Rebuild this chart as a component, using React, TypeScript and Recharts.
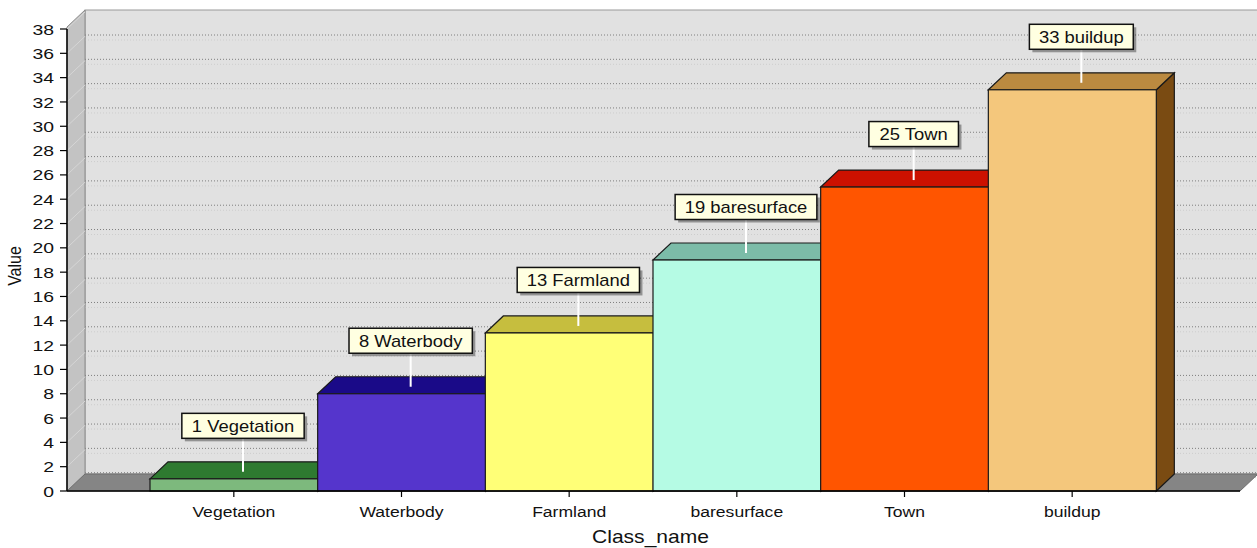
import React from 'react';
import * as R from 'recharts';
import { BarChart, Bar, XAxis, YAxis } from 'recharts';

// ---------- data ----------
const CATEGORIES = ['Vegetation', 'Waterbody', 'Farmland', 'baresurface', 'Town', 'buildup'];
const VALUES = [1, 8, 13, 19, 25, 33];
const Y_TICKS = [0, 2, 4, 6, 8, 10, 12, 14, 16, 18, 20, 22, 24, 26, 28, 30, 32, 34, 36, 38];
const Y_DOMAIN: [number, number] = [0, 38];
const X_TITLE = 'Class_name';
const Y_TITLE = 'Value';

// ---------- styles ----------
const FRONT = ['#7DB97D', '#5535CC', '#FFFF77', '#B5FBE4', '#FF5500', '#F4C77C'];
const TOP = ['#2E7A30', '#1A0A88', '#C6BE3E', '#7CBCA8', '#CC1100', '#BB8A40'];
const SIDE = ['#1E5520', '#100560', '#8E8820', '#4E8C78', '#8C0B00', '#7A4B12'];
const FONT = '"Liberation Sans", Arial, sans-serif';
const SX = 1.17;
const DX = 18;
const DY = -17;

const data = CATEGORIES.map((name, i) => ({ name, value: VALUES[i] }));

const CW: Record<string, number> = {
  '0': 0.556, '1': 0.556, '2': 0.556, '3': 0.556, '4': 0.556, '5': 0.556, '6': 0.556, '7': 0.556, '8': 0.556, '9': 0.556,
  ' ': 0.278, V: 0.667, e: 0.556, g: 0.556, t: 0.278, a: 0.556, i: 0.222, o: 0.556, n: 0.556, W: 0.944, r: 0.333,
  b: 0.556, d: 0.556, y: 0.5, F: 0.611, m: 0.833, l: 0.222, s: 0.5, u: 0.556, f: 0.278, c: 0.5, T: 0.611, w: 0.722, p: 0.556,
};
const textW = (s: string, size: number) => Array.from(s).reduce((a, c) => a + (CW[c] ?? 0.556), 0) * size;

const RAny: any = R;
function usePlot(): { x: number; y: number; width: number; height: number } | null {
  if (RAny.usePlotArea) return RAny.usePlotArea() ?? null;
  return null;
}

function Walls() {
  const pa = usePlot() ?? { x: 67, y: 29, width: 1173, height: 462 };
  const L = pa.x, Rt = pa.x + pa.width, T = pa.y, B = pa.y + pa.height;
  const yOf = (v: number) => B - ((v - Y_DOMAIN[0]) / (Y_DOMAIN[1] - Y_DOMAIN[0])) * pa.height;
  const wallTop = T - 2 + DY;
  const floorBack = B + DY;
  return (
    <g>
      <rect x={L + DX} y={wallTop} width={Rt - L} height={floorBack - wallTop} fill="#E1E1E1" stroke="#9A9A9A" strokeWidth={1} />
      {Y_TICKS.map((v) => {
        const gy = yOf(v) + 6;
        if (gy > floorBack - 1 || gy < wallTop + 2) return null;
        return (
          <g key={v}>
            <line x1={L + DX} x2={Rt + DX} y1={gy} y2={gy} stroke="#7E7E7E" strokeDasharray="1 2" strokeWidth={1} />
            <line x1={L + DX} x2={Rt + DX} y1={gy + 5} y2={gy + 5} stroke="#CDCDCD" strokeDasharray="1 2" strokeWidth={1} />
          </g>
        );
      })}
      <polygon
        points={`${L},${B} ${L},${T - 2} ${L + DX},${wallTop} ${L + DX},${floorBack}`}
        fill="#C3C3C3"
        stroke="#8C8C8C"
        strokeWidth={1}
      />
      {Y_TICKS.map((v) => (
        <line key={'d' + v} x1={L} y1={yOf(v)} x2={L + DX} y2={yOf(v) + DY} stroke="#D6D6D6" strokeWidth={1} />
      ))}
      <polygon
        points={`${L},${B} ${Rt},${B} ${Rt + DX},${floorBack} ${L + DX},${floorBack}`}
        fill="#858585"
        stroke="#6E6E6E"
        strokeWidth={1}
      />
    </g>
  );
}

function Titles() {
  const pa = usePlot() ?? { x: 67, y: 29, width: 1173, height: 462 };
  const cx = pa.x + pa.width / 2 - 3;
  const B = pa.y + pa.height;
  const cy = pa.y + pa.height / 2 + 6;
  return (
    <g>
      <text
        transform={`translate(${cx},${B + 52}) scale(${SX},1)`}
        textAnchor="middle"
        fontSize={18}
        fontFamily={FONT}
        fill="#111"
      >
        {X_TITLE}
      </text>
      <text
        transform={`translate(${21},${cy}) rotate(-90) scale(1,${SX})`}
        textAnchor="middle"
        fontSize={16}
        fontFamily={FONT}
        fill="#111"
      >
        {Y_TITLE}
      </text>
    </g>
  );
}

function Bar3D(props: any) {
  const { x, y, width, height, index, payload } = props;
  const i = index ?? 0;
  const w = width, h = height;
  const top = `${x},${y} ${x + DX},${y + DY} ${x + w + DX},${y + DY} ${x + w},${y}`;
  const side = `${x + w},${y} ${x + w + DX},${y + DY} ${x + w + DX},${y + h + DY} ${x + w},${y + h}`;
  const label = `${payload.value} ${payload.name}`;
  const bw = textW(label, 16) * 1.15 + 19;
  const bh = 25;
  const cx = x + w / 2 + DX / 2;
  const cy = y - 53;
  return (
    <g>
      <polygon points={side} fill={SIDE[i]} stroke="#1A1A1A" strokeWidth={1.2} />
      <polygon points={top} fill={TOP[i]} stroke="#1A1A1A" strokeWidth={1.2} />
      <rect x={x} y={y} width={w} height={h} fill={FRONT[i]} stroke="#1A1A1A" strokeWidth={1.2} />
      <line x1={cx} x2={cx} y1={cy + bh / 2} y2={y - 7} stroke="#FFFFFF" strokeWidth={2} />
      <rect x={cx - bw / 2 + 3} y={cy - bh / 2 + 3} width={bw} height={bh} fill="#000" opacity={0.35} />
      <rect x={cx - bw / 2} y={cy - bh / 2} width={bw} height={bh} fill="#FFFFE1" stroke="#111" strokeWidth={1.5} />
      <text
        transform={`translate(${cx},${cy + 6}) scale(1.15,1)`}
        textAnchor="middle"
        fontSize={16}
        fontFamily={FONT}
        fill="#111"
      >
        {label}
      </text>
    </g>
  );
}

const XTick = (p: any) => (
  <text
    transform={`translate(${p.x},${p.y + 18}) scale(${SX},1)`}
    textAnchor="middle"
    fontSize={15}
    fontFamily={FONT}
    fill="#111"
  >
    {p.payload.value}
  </text>
);

const YTick = (p: any) => (
  <text
    transform={`translate(${p.x},${p.y + 5.6}) scale(1.25,1)`}
    textAnchor="end"
    fontSize={15.5}
    fontFamily={FONT}
    fill="#111"
  >
    {p.payload.value}
  </text>
);

export default function App() {
  return (
    <div style={{ position: 'absolute', left: 0, top: 0, width: 1257, height: 548, background: '#FFFFFF' }}>
      <BarChart
        width={1257}
        height={548}
        data={data}
        margin={{ top: 29, right: 17, bottom: 0, left: 0 }}
        barCategoryGap={0}
        barGap={0}
      >
        <Walls />
        <XAxis
          dataKey="name"
          type="category"
          height={57}
          padding={{ left: 83, right: 84 }}
          axisLine={{ stroke: '#000', strokeWidth: 1.5 }}
          tickLine={{ stroke: '#000', strokeWidth: 1.2 }}
          tickSize={6}
          tickMargin={2}
          tick={<XTick />}
          interval={0}
        />
        <YAxis
          width={67}
          domain={Y_DOMAIN}
          ticks={Y_TICKS}
          interval={0}
          axisLine={{ stroke: '#000', strokeWidth: 1.5 }}
          tickLine={{ stroke: '#000', strokeWidth: 1.2 }}
          tickSize={7}
          tickMargin={6}
          tick={<YTick />}
        />
        <Bar dataKey="value" shape={<Bar3D />} isAnimationActive={false} />
        <Titles />
      </BarChart>
    </div>
  );
}
